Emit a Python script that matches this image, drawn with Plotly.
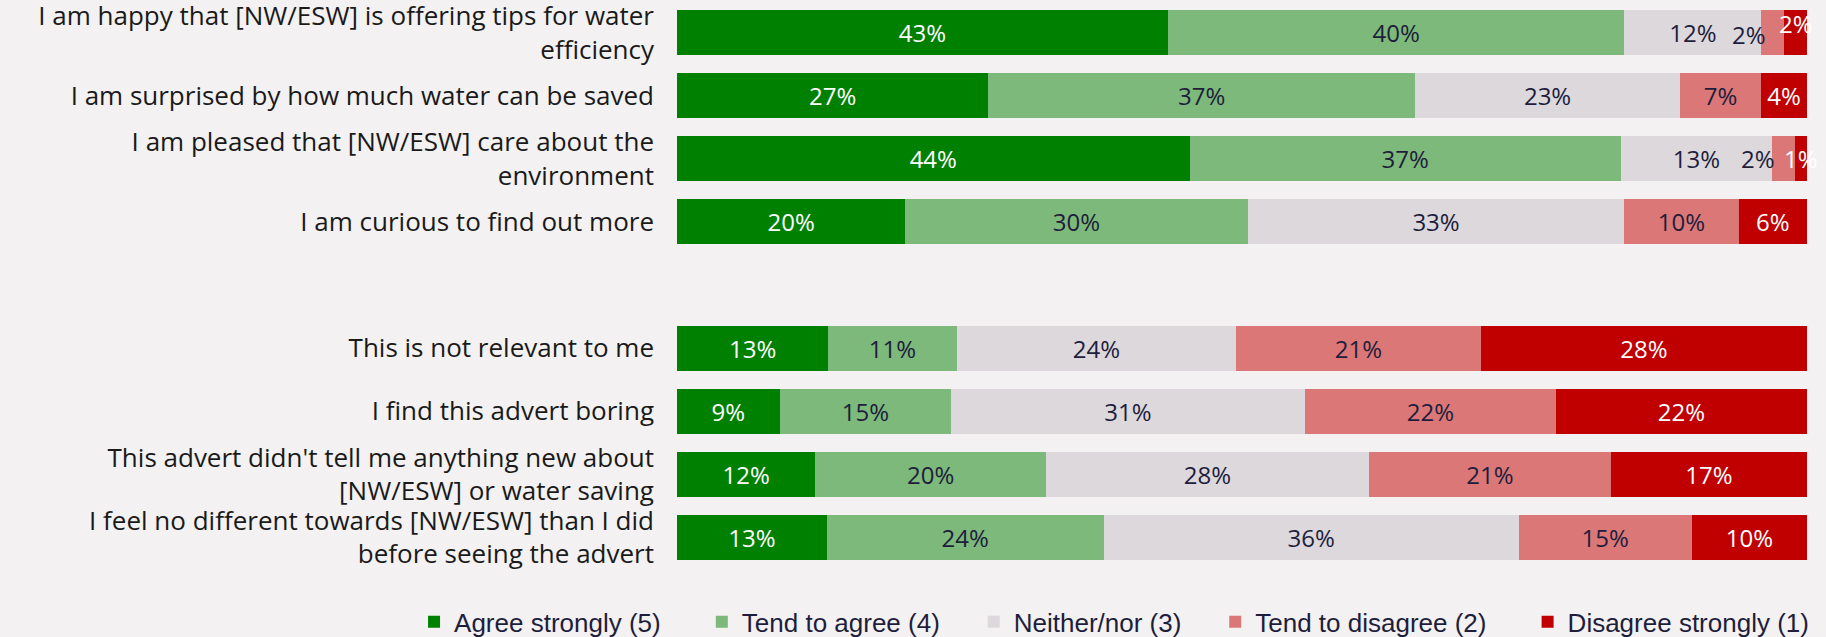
import plotly.graph_objects as go

# Survey statements (blank entry separates the positive and negative groups)
statements = [
    "I am happy that [NW/ESW] is offering tips for water<br>efficiency",
    "I am surprised by how much water can be saved",
    "I am pleased that [NW/ESW] care about the<br>environment",
    "I am curious to find out more",
    " ",
    "This is not relevant to me",
    "I find this advert boring",
    "This advert didn't tell me anything new about<br>[NW/ESW] or water saving",
    "I feel no different towards [NW/ESW] than I did<br>before seeing the advert",
]

agree_strongly = [43, 27, 44, 20, None, 13, 9, 12, 13]
tend_to_agree = [40, 37, 37, 30, None, 11, 15, 20, 24]
neither_nor = [12, 23, 13, 33, None, 24, 31, 28, 36]
tend_to_disagree = [2, 7, 2, 10, None, 21, 22, 21, 15]
disagree_strongly = [2, 4, 1, 6, None, 28, 22, 17, 10]

series_names = [
    "Agree strongly (5)",
    "Tend to agree (4)",
    "Neither/nor (3)",
    "Tend to disagree (2)",
    "Disagree strongly (1)",
]
series_values = [agree_strongly, tend_to_agree, neither_nor, tend_to_disagree, disagree_strongly]
series_colors = ["#008000", "#7db97a", "#dcd8dc", "#db7777", "#c00000"]
label_colors = ["#ffffff", "#1e1e3c", "#1e1e3c", "#1e1e3c", "#ffffff"]

BG = "#f3f1f1"
LABEL_FONT = "Open Sans"
VALUE_FONT = "Open Sans"
# trailing non-breaking spaces widen the gap after each legend entry
legend_pad = [5, 4, 4, 5, 0]

fig = go.Figure()

# Segments too narrow for an inside label get a nudged annotation instead
small_limit = 2
nudges = {  # (row, series) -> (xshift, yshift)
    (0, 3): (-24, -2),
    (0, 4): (0, 9),
    (2, 3): (-26, 0),
    (2, 4): (0, 0),
}

for s, (name, vals, col, tcol) in enumerate(zip(series_names, series_values, series_colors, label_colors)):
    texts = []
    for v in vals:
        if v is None or v <= small_limit:
            texts.append("")
        else:
            texts.append(f"{v}%")
    fig.add_trace(go.Bar(
        name=name + "\u00a0" * legend_pad[s],
        y=statements,
        x=vals,
        orientation="h",
        marker=dict(color=col, line=dict(width=0)),
        text=texts,
        textposition="inside",
        insidetextanchor="middle",
        constraintext="none",
        textfont=dict(family=VALUE_FONT, size=24, color=tcol),
        hoverinfo="skip",
    ))

# Annotations for the narrow segments, placed at the segment centres
for r in range(len(statements)):
    row = [series_values[s][r] for s in range(len(series_values))]
    if row[0] is None:
        continue
    total = sum(row)
    cum = 0.0
    for s, v in enumerate(row):
        start = cum
        cum += v
        if v <= small_limit:
            xs, ys = nudges.get((r, s), (0, 0))
            fig.add_annotation(
                x=(start + v / 2) / total * 100,
                y=statements[r],
                text=f"{v}%",
                showarrow=False,
                xshift=xs,
                yshift=ys,
                font=dict(family=VALUE_FONT, size=24, color=label_colors[s]),
            )

fig.update_layout(
    barmode="stack",
    barnorm="percent",
    bargap=0.287,
    width=1826,
    height=637,
    margin=dict(l=677, r=19, t=1, b=68, autoexpand=False),
    paper_bgcolor=BG,
    plot_bgcolor=BG,
    showlegend=True,
    legend=dict(
        orientation="h",
        x=-0.2327,
        xanchor="left",
        y=-0.093,
        yanchor="middle",
        font=dict(family="Liberation Sans, Arial", size=26, color="#1e1e3c"),
        itemwidth=30,
        traceorder="normal",
        bgcolor="rgba(0,0,0,0)",
    ),
    xaxis=dict(
        range=[0, 100],
        visible=False,
        showgrid=False,
        zeroline=False,
        fixedrange=True,
    ),
    yaxis=dict(
        autorange="reversed",
        showgrid=False,
        zeroline=False,
        showline=False,
        ticks="",
        ticklabelstandoff=22,
        tickfont=dict(family=LABEL_FONT, size=26, color="#1a1a1a"),
        fixedrange=True,
    ),
)

fig.write_html("out.html")
